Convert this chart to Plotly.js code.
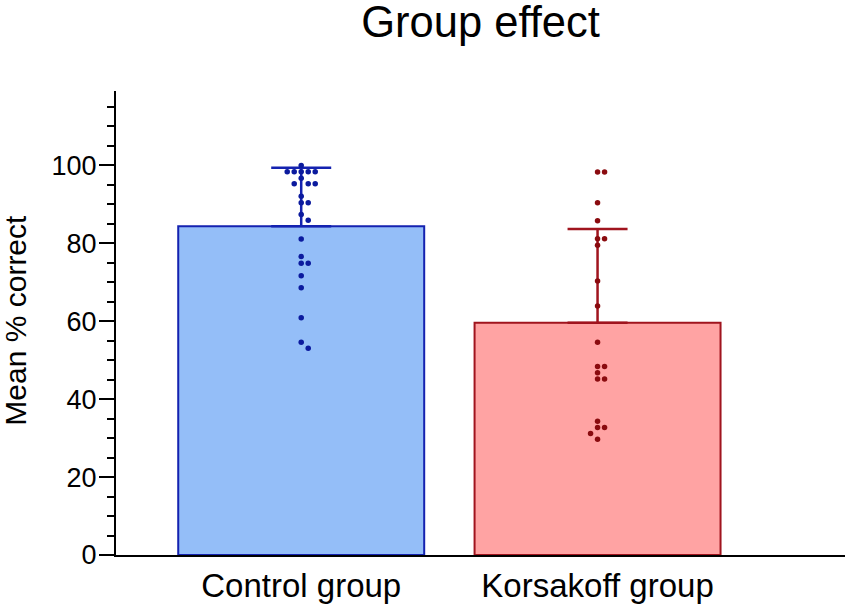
<!DOCTYPE html>
<html>
<head>
<meta charset="utf-8">
<script src="https://cdn.plot.ly/plotly-3.0.1.min.js"></script>
<style>html,body{margin:0;padding:0;background:#fff;}#chart{width:850px;height:605px;}</style>
</head>
<body>
<div id="chart"></div>
<script>
// ---- data ----
var categories = ["Control group", "Korsakoff group"];
var groupMeans = [84.4, 59.6];
var groupSD = [15.0, 24.1];
var controlScores = [100.0, 98.4, 98.4, 98.4, 98.4, 98.4, 96.7, 95.3, 95.3, 95.3, 92.1, 90.4, 90.4,
  87.4, 85.9, 81.1, 76.6, 74.9, 74.9, 71.7, 68.6, 60.9, 54.6, 53.1];
var korsakoffScores = [98.3, 98.3, 90.4, 85.8, 81.2, 81.2, 79.5, 70.3, 63.9, 54.6, 48.4, 48.4,
  46.8, 45.2, 45.2, 34.3, 32.7, 32.7, 31.2, 29.7];
var yTicks = [0, 20, 40, 60, 80, 100];

// ---- layout constants ----
var PX_PER_X = 296.5;   // pixels per category unit
var PX_PER_Y = 3.9;     // pixels per percent
var STEP = 7;           // horizontal spacing of dots in px
var MIND = 6.2;         // minimum dot distance in px

// simple beeswarm: spread dots with similar values sideways
function swarm(values) {
  var idx = values.map(function (v, i) { return i; });
  idx.sort(function (a, b) { return values[b] - values[a]; });
  var placed = [];
  var off = new Array(values.length);
  idx.forEach(function (i) {
    var py = values[i] * PX_PER_Y;
    for (var k = 0; k < 40; k++) {
      var cand = (k === 0) ? 0 : (k % 2 === 1 ? 1 : -1) * Math.ceil(k / 2) * STEP;
      var ok = placed.every(function (p) {
        var dx = p[0] - cand, dy = p[1] - py;
        return Math.sqrt(dx * dx + dy * dy) >= MIND;
      });
      if (ok) { placed.push([cand, py]); off[i] = cand / PX_PER_X; break; }
    }
  });
  return off;
}

var fills = ["#94BEF8", "#FFA3A3"];
var edges = ["#1422B0", "#A0141E"];
var dotCols = ["#0B1A9E", "#8A0B0F"];
var groups = [controlScores, korsakoffScores];

var traces = [];
categories.forEach(function (c, g) {
  traces.push({
    type: "bar",
    x: [g], y: [groupMeans[g]],
    width: 0.83,
    marker: { color: fills[g], line: { color: edges[g], width: 2 } },
    error_y: { type: "data", symmetric: false, array: [groupSD[g]], arrayminus: [0],
      color: edges[g], thickness: 2.5, width: 30 },
    hoverinfo: "skip", showlegend: false
  });
});
categories.forEach(function (c, g) {
  var offs = swarm(groups[g]);
  traces.push({
    type: "scatter", mode: "markers",
    x: groups[g].map(function (v, i) { return g + offs[i]; }),
    y: groups[g],
    marker: { color: dotCols[g], size: 5.5 },
    hoverinfo: "skip", showlegend: false
  });
});

var layout = {
  width: 850, height: 605,
  margin: { l: 116, r: 5, t: 91, b: 50 },
  paper_bgcolor: "#fff", plot_bgcolor: "#fff",
  font: { family: "Liberation Sans, Arial, sans-serif", color: "#000" },
  title: { text: "Group effect", font: { size: 43.5, color: "#000" },
    x: 0.5, xref: "paper", y: 1 - 22 / 605, yref: "container", yanchor: "middle" },
  bargap: 0,
  xaxis: {
    range: [-0.625, 1.835], tickvals: [0, 1], ticktext: categories,
    showgrid: false, zeroline: false, showline: true, linecolor: "#000", linewidth: 2,
    ticks: "", tickfont: { size: 33, color: "#000" }, fixedrange: true
  },
  yaxis: {
    range: [0, 119.1], tickvals: yTicks, ticktext: yTicks.map(String),
    showgrid: false, zeroline: false, showline: true, linecolor: "#000", linewidth: 2,
    ticks: "outside", ticklen: 15, tickwidth: 2, tickcolor: "#000",
    ticklabelstandoff: -3,
    tickfont: { size: 27, color: "#000" },
    minor: { dtick: 5, tick0: 0, ticks: "outside", ticklen: 7, tickwidth: 2, tickcolor: "#000" },
    fixedrange: true
  },
  annotations: [{
    text: "Mean % correct", textangle: -90, showarrow: false,
    xref: "paper", yref: "paper", x: (16 - 116) / 729, y: 0.505,
    xanchor: "center", yanchor: "middle",
    font: { size: 30, color: "#000" }
  }]
};

Plotly.newPlot("chart", traces, layout, { displayModeBar: false, staticPlot: true });
</script>
</body>
</html>
